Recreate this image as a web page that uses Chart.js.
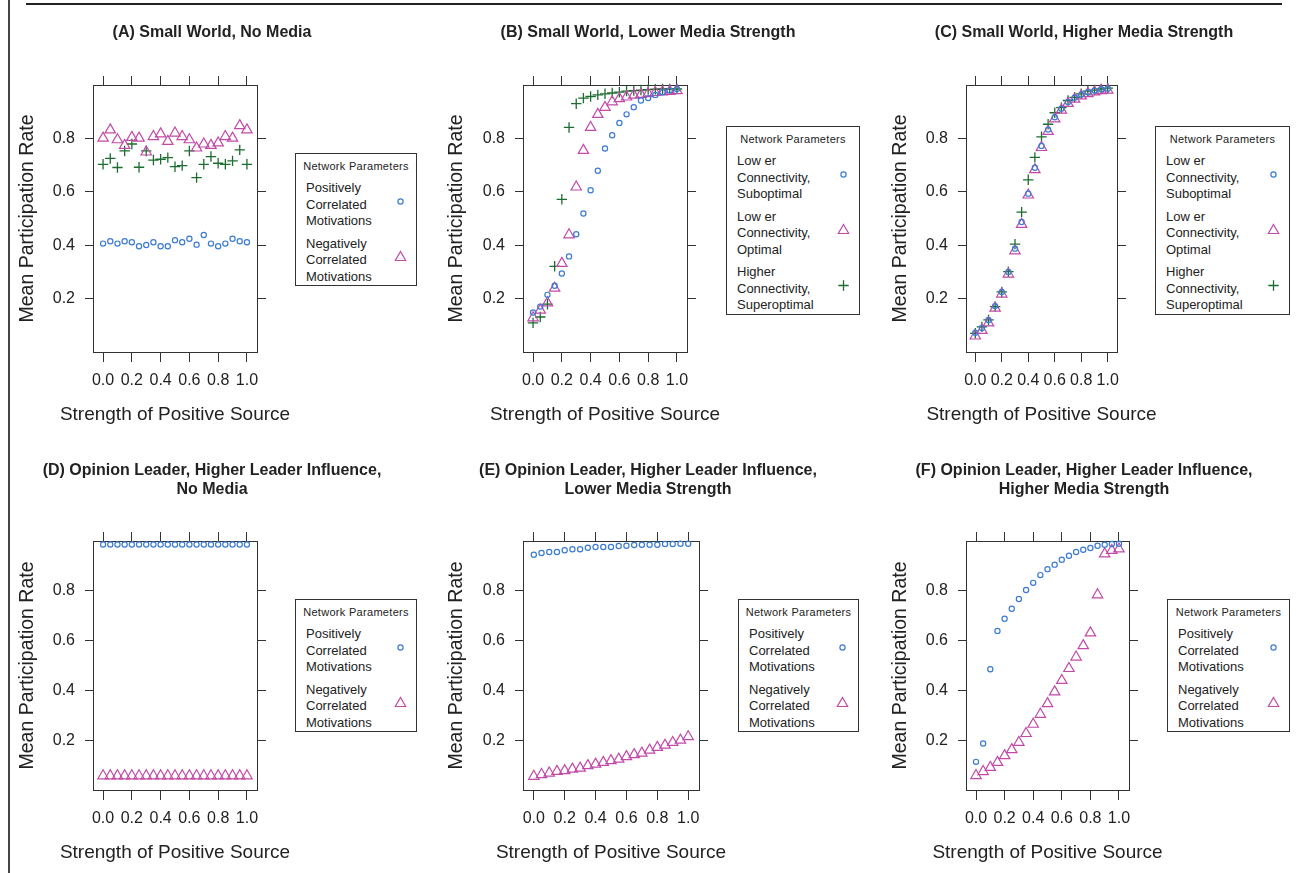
<!DOCTYPE html>
<html>
<head>
<meta charset="utf-8">
<script src="https://cdn.jsdelivr.net/npm/chart.js@4.4.1/dist/chart.umd.min.js"></script>
<style>
  html, body { margin: 0; padding: 0; background: #fff; }
  body { width: 1298px; height: 873px; position: relative; overflow: hidden;
         font-family: "Liberation Sans", Arial, sans-serif; color: #222; }
  canvas { position: absolute; }
  .rule-top { position: absolute; left: 26px; top: 3px; width: 1256px; height: 2px; background: #222; }
  .rule-left { position: absolute; left: 8px; top: 0; width: 1.5px; height: 873px; background: #444; }
  .key { position: absolute; box-sizing: border-box; border: 1px solid #333; background: #fff; }
  .key-title { font-size: 11px; line-height: 14px; margin-top: 5px; text-align: center; letter-spacing: 0.3px; }
  .key-item { position: relative; margin-top: 6px; padding-left: 10px; font-size: 13px; line-height: 16.5px; }
  .key-title + .key-item { margin-top: 7px; }
  .key-item svg { position: absolute; right: 8px; top: 50%; margin-top: -10.5px; }
</style>
</head>
<body>
<div class="rule-top"></div>
<div class="rule-left"></div>
<script>
// strength of positive source (x) for every panel
const strength = [0.00, 0.05, 0.10, 0.15, 0.20, 0.25, 0.30, 0.35, 0.40, 0.45, 0.50,
                  0.55, 0.60, 0.65, 0.70, 0.75, 0.80, 0.85, 0.90, 0.95, 1.00];
const xTickValues = [0.0, 0.2, 0.4, 0.6, 0.8, 1.0];
const yTickValues = [0.2, 0.4, 0.6, 0.8];

// (A) small world, no media
const swNoMediaPos   = [0.406, 0.415, 0.406, 0.415, 0.411, 0.396, 0.401, 0.411, 0.396, 0.396, 0.419,
                        0.411, 0.424, 0.402, 0.438, 0.406, 0.396, 0.406, 0.424, 0.415, 0.411];
const swNoMediaNeg   = [0.801, 0.832, 0.795, 0.774, 0.804, 0.801, 0.749, 0.807, 0.817, 0.789, 0.820,
                        0.807, 0.795, 0.764, 0.779, 0.774, 0.783, 0.807, 0.801, 0.848, 0.832];
const swNoMediaOther = [0.703, 0.725, 0.691, 0.753, 0.779, 0.692, 0.753, 0.719, 0.722, 0.728, 0.694,
                        0.698, 0.753, 0.653, 0.703, 0.732, 0.707, 0.703, 0.716, 0.757, 0.703];

// (B) small world, lower media strength
const swLowLowerSub    = [0.148, 0.170, 0.214, 0.248, 0.294, 0.358, 0.441, 0.519, 0.606, 0.679, 0.762,
                          0.812, 0.858, 0.890, 0.917, 0.942, 0.951, 0.963, 0.973, 0.979, 0.985];
const swLowLowerOpt    = [0.128, 0.157, 0.184, 0.239, 0.332, 0.439, 0.618, 0.755, 0.841, 0.890, 0.916,
                          0.937, 0.949, 0.955, 0.962, 0.965, 0.968, 0.972, 0.974, 0.976, 0.979];
const swLowHigherSuper = [0.109, 0.131, 0.179, 0.321, 0.572, 0.841, 0.930, 0.951, 0.957, 0.963, 0.967,
                          0.970, 0.973, 0.977, 0.979, 0.981, 0.983, 0.984, 0.985, 0.985, 0.985];

// (C) small world, higher media strength
const swHighLowerSub    = [0.072, 0.090, 0.120, 0.172, 0.225, 0.300, 0.387, 0.487, 0.593, 0.690, 0.772,
                           0.833, 0.879, 0.911, 0.936, 0.952, 0.964, 0.973, 0.979, 0.984, 0.986];
const swHighLowerOpt    = [0.060, 0.081, 0.109, 0.164, 0.217, 0.292, 0.379, 0.478, 0.588, 0.683, 0.766,
                           0.826, 0.873, 0.906, 0.931, 0.947, 0.959, 0.968, 0.974, 0.979, 0.981];
const swHighHigherSuper = [0.070, 0.094, 0.120, 0.170, 0.225, 0.301, 0.404, 0.524, 0.645, 0.729, 0.806,
                           0.853, 0.896, 0.915, 0.942, 0.954, 0.967, 0.977, 0.981, 0.985, 0.988];

// (D) opinion leader, no media
const olNoMediaPos = [0.986, 0.986, 0.986, 0.986, 0.986, 0.986, 0.986, 0.986, 0.986, 0.986, 0.986,
                      0.986, 0.986, 0.986, 0.986, 0.986, 0.986, 0.986, 0.986, 0.986, 0.986];
const olNoMediaNeg = [0.057, 0.057, 0.057, 0.057, 0.057, 0.057, 0.057, 0.057, 0.057, 0.057, 0.057,
                      0.057, 0.057, 0.057, 0.057, 0.057, 0.057, 0.057, 0.057, 0.057, 0.057];

// (E) opinion leader, lower media strength
const olLowPos = [0.945, 0.952, 0.956, 0.956, 0.963, 0.967, 0.967, 0.973, 0.976, 0.976, 0.976,
                  0.980, 0.981, 0.984, 0.985, 0.985, 0.985, 0.988, 0.988, 0.989, 0.989];
const olLowNeg = [0.055, 0.062, 0.068, 0.075, 0.078, 0.084, 0.088, 0.098, 0.104, 0.111, 0.118,
                  0.124, 0.134, 0.142, 0.148, 0.160, 0.171, 0.180, 0.191, 0.200, 0.214];

// (F) opinion leader, higher media strength
const olHighPos = [0.113, 0.187, 0.485, 0.639, 0.688, 0.728, 0.767, 0.803, 0.832, 0.863, 0.887,
                   0.905, 0.925, 0.941, 0.956, 0.965, 0.972, 0.981, 0.985, 0.988, 0.989];
const olHighNeg = [0.058, 0.074, 0.091, 0.111, 0.138, 0.162, 0.191, 0.227, 0.264, 0.304, 0.347,
                   0.394, 0.440, 0.488, 0.534, 0.580, 0.631, 0.784, 0.948, 0.962, 0.968];

const motivationKeys = [['Positively', 'Correlated', 'Motivations'], ['Negatively', 'Correlated', 'Motivations']];
const connectivityKeys = [['Low er', 'Connectivity,', 'Suboptimal'], ['Low er', 'Connectivity,', 'Optimal'],
                          ['Higher', 'Connectivity,', 'Superoptimal']];

const marks = {
  circle:   { style: 'circle',   color: '#3b7bd4', radius: 2.6, width: 1.2 },
  triangle: { style: 'triangle', color: '#c14aa8', radius: 6,   width: 1.2 },
  cross:    { style: 'cross',    color: '#1b6e30', radius: 5.2, width: 1.3 }
};

const FONT = '"Liberation Sans", Arial, sans-serif';
Chart.defaults.font.family = FONT;
Chart.defaults.color = '#222';

const rows = [
  { top: 8,   height: 418, titlePad: 15.8, topAxis: 42.8 },
  { top: 440, height: 424, titlePad: 21.5, topAxis: 42.7 }
];

const panels = [
  { title: '(A) Small World, No Media', row: 0, left: 16, width: 392, yW: 77, y2W: 151,
    series: [[swNoMediaPos, 'circle'], [swNoMediaNeg, 'triangle'], [swNoMediaOther, 'cross']],
    key: { left: 295, top: 153, width: 122, labels: motivationKeys, marks: ['circle', 'triangle'] } },
  { title: '(B) Small World, Lower Media Strength', row: 0, left: 445, width: 406, yW: 78, y2W: 164,
    series: [[swLowLowerSub, 'circle'], [swLowLowerOpt, 'triangle'], [swLowHigherSuper, 'cross']],
    key: { left: 726, top: 126, width: 134, labels: connectivityKeys, marks: ['circle', 'triangle', 'cross'] } },
  { title: '(C) Small World, Higher Media Strength', row: 0, left: 889, width: 390, yW: 77, y2W: 162,
    series: [[swHighLowerSub, 'circle'], [swHighLowerOpt, 'triangle'], [swHighHigherSuper, 'cross']],
    key: { left: 1155, top: 126, width: 135, labels: connectivityKeys, marks: ['circle', 'triangle', 'cross'] } },
  { title: ['(D) Opinion Leader, Higher Leader Influence,', 'No Media'], row: 1, left: 16, width: 392, yW: 77, y2W: 151,
    series: [[olNoMediaPos, 'circle'], [olNoMediaNeg, 'triangle']],
    key: { left: 295, top: 599, width: 122, labels: motivationKeys, marks: ['circle', 'triangle'] } },
  { title: ['(E) Opinion Leader, Higher Leader Influence,', 'Lower Media Strength'], row: 1, left: 445, width: 406, yW: 78, y2W: 152,
    series: [[olLowPos, 'circle'], [olLowNeg, 'triangle']],
    key: { left: 738, top: 599, width: 121, labels: motivationKeys, marks: ['circle', 'triangle'] } },
  { title: ['(F) Opinion Leader, Higher Leader Influence,', 'Higher Media Strength'], row: 1, left: 889, width: 390, yW: 77, y2W: 150,
    series: [[olHighPos, 'circle'], [olHighNeg, 'triangle']],
    key: { left: 1167, top: 599, width: 123, labels: motivationKeys, marks: ['circle', 'triangle'] } }
];

// the x title is wider than the plot, chart.js would squeeze it to the axis width
const xTitlePlugin = {
  id: 'xTitle',
  afterDraw(chart) {
    const s = chart.scales.x;
    const ctx = chart.ctx;
    ctx.save();
    ctx.font = '19px ' + FONT;
    ctx.fillStyle = '#222';
    ctx.textAlign = 'center';
    ctx.textBaseline = 'middle';
    ctx.fillText('Strength of Positive Source', (s.left + s.right) / 2, s.bottom - 11.4);
    ctx.restore();
  }
};

function xAxis(position, size, labelled) {
  return {
    type: 'linear', position: position, min: -0.07, max: 1.07,
    afterBuildTicks: s => { s.ticks = xTickValues.map(v => ({ value: v })); },
    afterFit: s => { s.height = size; },
    border: { display: true, color: '#333', width: 1 },
    grid: { drawOnChartArea: false, drawTicks: true, tickLength: position === 'bottom' ? 10 : 9, color: '#333' },
    ticks: { display: labelled, autoSkip: false, maxRotation: 0, minRotation: 0, padding: 9,
             font: { size: 16 }, color: '#222', callback: v => v.toFixed(1) },
    title: { display: false }
  };
}

function yAxis(position, size, labelled) {
  return {
    type: 'linear', position: position, min: 0, max: 1,
    afterBuildTicks: s => { s.ticks = yTickValues.map(v => ({ value: v })); },
    afterFit: s => { s.width = size; },
    border: { display: true, color: '#333', width: 1 },
    grid: { drawOnChartArea: false, drawTicks: true, tickLength: position === 'left' ? 8 : 9, color: '#333' },
    ticks: { display: labelled, autoSkip: false, padding: 10,
             font: { size: 16 }, color: '#222', callback: v => v.toFixed(1) },
    title: { display: labelled, text: 'Mean Participation Rate', font: { size: 19.5 }, padding: 0, color: '#222' }
  };
}

function markSvg(name) {
  const c = marks[name].color;
  let shape = '';
  if (name === 'circle') shape = `<circle cx="7.5" cy="7.5" r="2.6" fill="none" stroke="${c}" stroke-width="1.2"/>`;
  if (name === 'triangle') shape = `<polygon points="7.5,1.5 12.7,10.5 2.3,10.5" fill="none" stroke="${c}" stroke-width="1.2"/>`;
  if (name === 'cross') shape = `<path d="M2.3 7.5H12.7M7.5 2.3V12.7" stroke="${c}" stroke-width="1.3"/>`;
  return `<svg width="15" height="15" viewBox="0 0 15 15">${shape}</svg>`;
}

panels.forEach(p => {
  const row = rows[p.row];
  const canvas = document.createElement('canvas');
  canvas.width = p.width;
  canvas.height = row.height;
  canvas.style.left = p.left + 'px';
  canvas.style.top = row.top + 'px';
  document.body.appendChild(canvas);

  new Chart(canvas, {
    type: 'scatter',
    data: {
      datasets: p.series.map(([values, m]) => ({
        data: strength.map((x, i) => ({ x: x, y: values[i] })),
        pointStyle: marks[m].style,
        pointRadius: marks[m].radius,
        borderWidth: marks[m].width,
        borderColor: marks[m].color,
        backgroundColor: 'rgba(0,0,0,0)',
        showLine: false,
        clip: false
      }))
    },
    options: {
      responsive: false,
      animation: false,
      events: [],
      layout: { padding: 0 },
      plugins: {
        legend: { display: false },
        tooltip: { enabled: false },
        title: { display: true, text: p.title, color: '#222',
                 font: { size: 16, weight: 'bold', lineHeight: 1.15 },
                 padding: { top: row.titlePad, bottom: 0 } }
      },
      scales: {
        x: xAxis('bottom', 74, true),
        x2: xAxis('top', row.topAxis, false),
        y: yAxis('left', p.yW, true),
        y2: yAxis('right', p.y2W, false)
      }
    },
    plugins: [xTitlePlugin]
  });

  // key box on the right of each panel
  const key = document.createElement('div');
  key.className = 'key';
  key.style.left = p.key.left + 'px';
  key.style.top = p.key.top + 'px';
  key.style.width = p.key.width + 'px';
  let html = '<div class="key-title">Network Parameters</div>';
  p.key.labels.forEach((lines, i) => {
    html += `<div class="key-item">${lines.join('<br>')}${markSvg(p.key.marks[i])}</div>`;
  });
  key.innerHTML = html;
  document.body.appendChild(key);
});
</script>
</body>
</html>
